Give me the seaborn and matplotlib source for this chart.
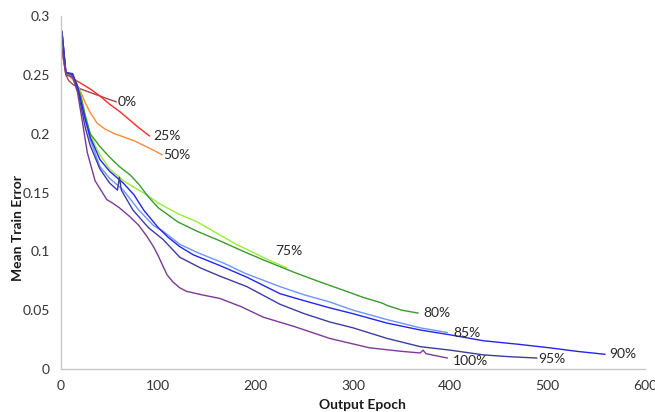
import numpy as np
import pandas as pd
import matplotlib
matplotlib.use("Agg")
import matplotlib.pyplot as plt
import seaborn as sns

# ---- data ----
labels = ["0%", "25%", "50%", "75%", "80%", "85%", "90%", "95%", "100%"]

ep_0 = [1, 3, 5, 8, 12, 20, 30, 40, 50, 57]
err_0 = [0.272, 0.262, 0.250, 0.245, 0.242, 0.238, 0.235, 0.232, 0.229, 0.227]

ep_25 = [1, 5, 10, 20, 30, 40, 50, 60, 70, 80, 91]
err_25 = [0.270, 0.252, 0.248, 0.243, 0.238, 0.232, 0.225, 0.219, 0.212, 0.205, 0.198]

ep_50 = [1, 5, 10, 15, 20, 25, 30, 37, 45, 55, 65, 75, 85, 95, 104]
err_50 = [0.270, 0.252, 0.248, 0.243, 0.236, 0.226, 0.218, 0.209, 0.204, 0.200,
          0.197, 0.194, 0.190, 0.186, 0.182]

ep_75 = [1, 5, 10, 15, 20, 25, 30, 35, 40, 50, 64, 80, 90, 100, 120, 140, 163,
         180, 200, 215, 232]
err_75 = [0.280, 0.252, 0.250, 0.245, 0.235, 0.215, 0.200, 0.190, 0.182, 0.170,
          0.160, 0.152, 0.147, 0.141, 0.132, 0.125, 0.114, 0.106, 0.098, 0.092, 0.086]

ep_80 = [1, 5, 10, 15, 20, 25, 30, 40, 50, 60, 71, 80, 90, 100, 120, 140, 163,
         190, 210, 240, 266, 290, 310, 330, 335, 350, 367]
err_80 = [0.280, 0.252, 0.250, 0.245, 0.233, 0.215, 0.200, 0.189, 0.180, 0.172,
          0.165, 0.157, 0.146, 0.137, 0.125, 0.117, 0.109, 0.099, 0.092, 0.082,
          0.074, 0.067, 0.061, 0.056, 0.054, 0.050, 0.0475]

ep_85 = [1, 5, 12, 17, 25, 30, 40, 50, 64, 80, 95, 105, 122, 140, 167, 190, 225,
         250, 276, 300, 335, 369, 397]
err_85 = [0.287, 0.252, 0.250, 0.240, 0.212, 0.195, 0.172, 0.162, 0.152, 0.135,
          0.122, 0.117, 0.106, 0.099, 0.090, 0.081, 0.070, 0.063, 0.057, 0.050,
          0.042, 0.035, 0.031]

ep_90 = [1, 5, 12, 17, 25, 30, 40, 50, 64, 75, 85, 100, 110, 122, 136, 163, 191,
         225, 250, 276, 300, 335, 370, 400, 434, 470, 502, 530, 559]
err_90 = [0.287, 0.252, 0.251, 0.240, 0.212, 0.197, 0.178, 0.168, 0.158, 0.148,
          0.135, 0.120, 0.112, 0.104, 0.097, 0.088, 0.078, 0.064, 0.058, 0.052,
          0.047, 0.039, 0.033, 0.029, 0.024, 0.021, 0.018, 0.015, 0.0125]

ep_95 = [1, 5, 12, 17, 25, 30, 40, 50, 58, 60, 62, 74, 90, 105, 122, 143, 163,
         191, 225, 250, 276, 300, 335, 369, 400, 434, 460, 489]
err_95 = [0.287, 0.252, 0.250, 0.238, 0.205, 0.190, 0.170, 0.158, 0.152, 0.163,
          0.152, 0.135, 0.120, 0.110, 0.095, 0.086, 0.079, 0.070, 0.055, 0.047,
          0.040, 0.035, 0.026, 0.019, 0.016, 0.012, 0.0105, 0.0093]

ep_100 = [1, 5, 12, 17, 22, 27, 35, 47, 53, 60, 70, 80, 88, 95, 100, 105, 109,
          115, 122, 129, 145, 163, 185, 208, 240, 276, 317, 350, 369, 372, 375, 397]
err_100 = [0.272, 0.250, 0.248, 0.235, 0.210, 0.184, 0.160, 0.144, 0.141, 0.137,
           0.130, 0.122, 0.113, 0.104, 0.096, 0.087, 0.080, 0.074, 0.069, 0.066,
           0.063, 0.060, 0.053, 0.044, 0.036, 0.026, 0.018, 0.015, 0.0136, 0.016,
           0.013, 0.0093]

colors = ["#a24848", "#ff2a2a", "#ff8a3d", "#99ee33", "#3a9a2e",
          "#6a96ff", "#2424f0", "#3c3ca2", "#7e3896"]

series = [(ep_0, err_0), (ep_25, err_25), (ep_50, err_50), (ep_75, err_75),
          (ep_80, err_80), (ep_85, err_85), (ep_90, err_90), (ep_95, err_95),
          (ep_100, err_100)]

xticks = [0, 100, 200, 300, 400, 500, 600]
yticks = [0, 0.05, 0.1, 0.15, 0.2, 0.25, 0.3]
ytick_labels = ["0", "0.05", "0.1", "0.15", "0.2", "0.25", "0.3"]

# label offsets (points) relative to each line end
label_offsets = [(1, 0), (3, 0), (1, 0), (-8, 12), (4, 0), (4, 0), (3, 0), (1, -1), (4, -2)]

rows = []
for lab, (xs, ys) in zip(labels, series):
    for i, (x, y) in enumerate(zip(xs, ys)):
        rows.append({"series": lab, "order": i, "epoch": x, "error": y})
df = pd.DataFrame(rows)

sns.set_theme(style="white")
plt.rcParams["font.family"] = ["Lato", "DejaVu Sans"]

fig = plt.figure(figsize=(6.55, 4.12), dpi=100)
ax = fig.add_axes([61 / 655, 1 - 369 / 412, (645 - 61) / 655, (369 - 16) / 412])

sns.lineplot(data=df, x="epoch", y="error", hue="series", hue_order=labels,
             palette=dict(zip(labels, colors)), estimator=None, sort=False,
             units="series", legend=False, linewidth=1.0, ax=ax)

for lab, (xs, ys), off in zip(labels, series, label_offsets):
    ax.annotate(lab, xy=(xs[-1], ys[-1]), xytext=off, textcoords="offset points",
                ha="left", va="center", fontsize=10, color="#262626")

ax.set_xlim(0, 600)
ax.set_ylim(0, 0.3)
ax.set_xticks(xticks)
ax.set_yticks(yticks)
ax.set_yticklabels(ytick_labels)
ax.set_xticklabels([str(t) for t in xticks])

for s in ["top", "right"]:
    ax.spines[s].set_visible(False)
for s in ["left", "bottom"]:
    ax.spines[s].set_color("#c8c8c8")
    ax.spines[s].set_linewidth(1.0)
ax.tick_params(axis="both", which="major", direction="out", length=4, width=1,
               color="#c8c8c8", labelsize=10, labelcolor="#333333", pad=4)

ax.set_xlabel("Output Epoch", fontsize=10, fontweight="bold", color="#1a1a1a")
ax.set_ylabel("Mean Train Error", fontsize=10, fontweight="bold", color="#1a1a1a")
ax.xaxis.set_label_coords((362 - 61) / 584, (369 - 399) / 353)
ax.yaxis.set_label_coords((24 - 61) / 584, (369 - 228) / 353)

fig.savefig("out.png", dpi=100)
